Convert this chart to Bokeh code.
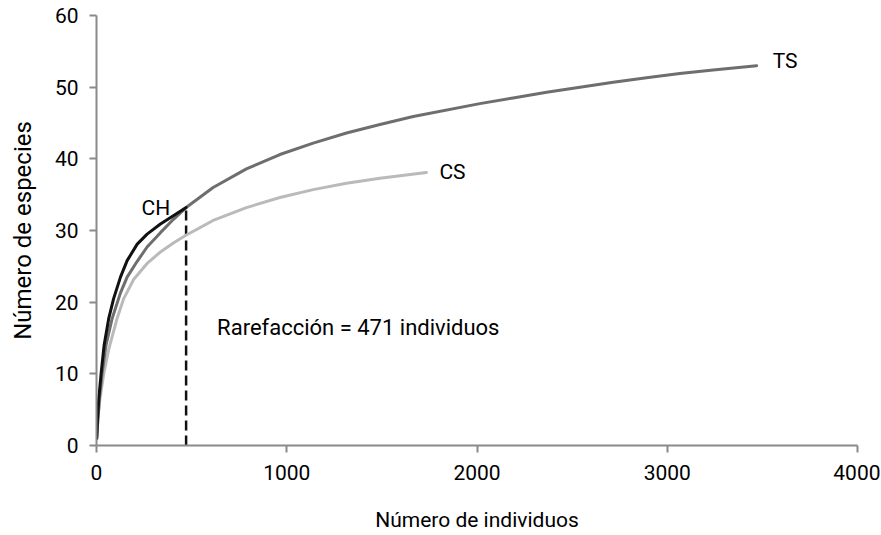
from bokeh.plotting import figure
from bokeh.models import Label, FixedTicker
from bokeh.embed import file_html
from bokeh.resources import INLINE

# ---- data ----
ch_x = [1, 5, 12, 24, 40, 64, 90, 126, 161, 214, 266, 336, 406, 471]
ch_y = [1, 3.5, 6.5, 10, 14, 17.7, 20.5, 23.5, 25.8, 28.1, 29.5, 30.9, 32.1, 33.2]

ts_x = [1, 7, 15, 29, 50, 82, 126, 161, 214, 266, 336, 406, 471, 613, 788, 964,
        1139, 1314, 1490, 1665, 2015, 2190, 2366, 2541, 2716, 2891, 3066, 3241, 3470]
ts_y = [1, 3.5, 6.5, 10, 14, 17.7, 21.3, 23.5, 25.7, 27.7, 29.7, 31.6, 33.2, 36.0,
        38.6, 40.6, 42.2, 43.6, 44.8, 45.9, 47.7, 48.5, 49.3, 50.0, 50.7, 51.3,
        51.9, 52.4, 53.0]

cs_x = [1, 7, 18, 38, 65, 108, 143, 196, 266, 336, 406, 468, 613, 788, 964,
        1139, 1314, 1490, 1734]
cs_y = [1, 3.5, 6.5, 10, 13.5, 17.7, 20.5, 23.2, 25.4, 27.0, 28.3, 29.3, 31.4,
        33.2, 34.6, 35.7, 36.6, 37.3, 38.1]

rarefaction_n = 471
rarefaction_text = "Rarefacción = 471 individuos"

x_ticks = [0, 1000, 2000, 3000, 4000]
y_ticks = [0, 10, 20, 30, 40, 50, 60]

FONT = "Roboto"
FS = "21px"

p = figure(width=880, height=534, output_backend="svg", toolbar_location=None,
           x_range=(0, 4000), y_range=(0, 60),
           min_border_left=96, min_border_right=23, min_border_top=15,
           min_border_bottom=87)
p.outline_line_color = None
p.xgrid.visible = False
p.ygrid.visible = False
p.background_fill_color = "white"

for ax in (p.xaxis[0], p.yaxis[0]):
    ax.axis_line_color = "#8a8a8a"
    ax.axis_line_width = 2
    ax.major_tick_line_color = "#8a8a8a"
    ax.major_tick_line_width = 2
    ax.major_tick_out = 7
    ax.major_tick_in = 0
    ax.minor_tick_line_color = None
    ax.major_label_text_font = FONT
    ax.major_label_text_font_size = FS
    ax.major_label_text_color = "black"
    ax.axis_label_text_font = FONT
    ax.axis_label_text_font_style = "normal"
    ax.axis_label_text_color = "black"

p.xaxis.ticker = FixedTicker(ticks=x_ticks)
p.yaxis.ticker = FixedTicker(ticks=y_ticks)
p.xaxis.major_label_standoff = 12
p.yaxis.major_label_standoff = 11
p.xaxis.axis_label = "Número de individuos"
p.yaxis.axis_label = "Número de especies"
p.xaxis.axis_label_text_font_size = "21px"
p.yaxis.axis_label_text_font_size = "24px"
p.xaxis.axis_label_standoff = 25
p.yaxis.axis_label_standoff = 15

# dashed rarefaction line
p.segment(x0=[rarefaction_n], y0=[0], x1=[rarefaction_n], y1=[ch_y[-1]],
          line_color="#111111", line_width=2.5, line_dash="10 5")

p.line(cs_x, cs_y, line_color="#bababa", line_width=3, line_join="round", line_cap="round")
p.line(ts_x, ts_y, line_color="#6e6e6e", line_width=3, line_join="round", line_cap="round")
p.line(ch_x, ch_y, line_color="#111111", line_width=3, line_join="round", line_cap="round")

def lab(x, y, t, align, baseline, xo=0, yo=0, fs=FS):
    p.add_layout(Label(x=x, y=y, text=t, text_font=FONT, text_font_size=fs,
                       text_color="black", text_align=align, text_baseline=baseline,
                       x_offset=xo, y_offset=yo))

lab(ts_x[-1], ts_y[-1], "TS", "left", "middle", 16, 5)
lab(cs_x[-1], cs_y[-1], "CS", "left", "middle", 13, 0)
lab(ch_x[-1], ch_y[-1], "CH", "right", "alphabetic", -16, 0)
lab(rarefaction_n, 16.5, rarefaction_text, "left", "alphabetic", 31, 0, "22px")

open("out.html", "w").write(file_html(p, INLINE))
